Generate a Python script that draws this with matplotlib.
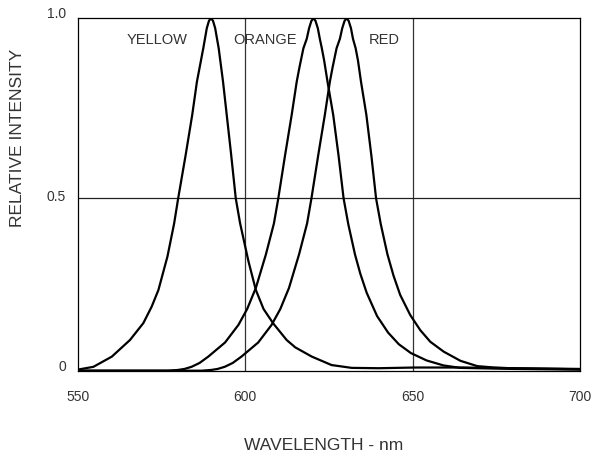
import matplotlib
matplotlib.use('Agg')
import matplotlib.pyplot as plt

plt.rcParams['font.family'] = ['Liberation Sans', 'DejaVu Sans']

# values (wavelength nm, relative intensity)
yellow_nm = [550, 554.7, 560.2, 565.6, 569.6, 572.1, 574.1, 576.8, 578.8, 580.0, 582.2, 584.2,
             585.6, 587.5, 588.0, 588.55, 589.2, 589.8, 590.4, 591.05, 591.6, 592.1, 593.4,
             594.5, 595.8, 597.2, 598.5, 601.0, 603.2, 605.5, 608.4, 612.4, 615.0, 619.9,
             625.8, 631.8, 639.8, 650.7, 665, 680, 700]
yellow_i = [0.003, 0.011, 0.040, 0.087, 0.135, 0.182, 0.229, 0.324, 0.418, 0.489, 0.61, 0.726,
            0.82, 0.915, 0.942, 0.972, 0.993, 1.0, 0.993, 0.972, 0.942, 0.915, 0.82,
            0.726, 0.615, 0.489, 0.418, 0.31, 0.229, 0.175, 0.134, 0.087, 0.066, 0.040,
            0.016, 0.008, 0.007, 0.009, 0.009, 0.007, 0.004]

orange_nm = [550, 577.0, 579.9, 581.9, 584.0, 586.4, 589.0, 594.0, 598.0, 600.6, 603.2, 606.2,
             608.6, 609.9, 611.9, 613.9, 615.4, 616.2, 617.4, 618.4, 619.1, 619.8,
             620.4, 621.0, 621.7, 622.3, 622.9, 623.6, 624.6, 626.3, 627.9, 629.4, 630.8,
             632.8, 634.4, 636.3, 639.4, 642.7, 645.9, 649.5, 654.2, 659.2, 664.2, 680, 700]
orange_i = [0.0, 0.0, 0.002, 0.005, 0.011, 0.022, 0.040, 0.080, 0.130, 0.175, 0.235, 0.33,
            0.418, 0.489, 0.61, 0.726, 0.82, 0.86, 0.915, 0.942, 0.972, 0.993,
            1.0, 0.993, 0.972, 0.942, 0.915, 0.88, 0.82, 0.726, 0.61, 0.489, 0.416,
            0.33, 0.275, 0.221, 0.155, 0.108, 0.075, 0.050, 0.029, 0.015, 0.008, 0.005, 0.003]

red_nm = [550, 587.0, 589.8, 591.8, 593.9, 596.3, 598.9, 603.9, 607.9, 610.5, 613.1, 616.1,
          618.5, 619.8, 621.8, 623.8, 625.3, 626.1, 627.3, 628.3, 629.0, 629.7,
          630.3, 630.9, 631.6, 632.2, 633.0, 633.7, 634.6, 636.2, 637.7, 639.1, 640.5,
          642.5, 644.3, 646.3, 649.3, 652.3, 655.3, 659.3, 664.3, 669.3, 674.3, 679.3, 700]
red_i = [0.0, 0.0, 0.002, 0.005, 0.011, 0.022, 0.040, 0.080, 0.130, 0.175, 0.235, 0.33,
         0.418, 0.489, 0.61, 0.726, 0.82, 0.86, 0.915, 0.942, 0.972, 0.993,
         1.0, 0.993, 0.972, 0.942, 0.915, 0.88, 0.82, 0.726, 0.61, 0.489, 0.416,
         0.33, 0.27, 0.215, 0.158, 0.115, 0.082, 0.054, 0.028, 0.013, 0.009, 0.007, 0.005]

series = [(yellow_nm, yellow_i), (orange_nm, orange_i), (red_nm, red_i)]

band_names = ['YELLOW', 'ORANGE', 'RED']
band_label_nm = [573.6, 605.8, 641.4]

x_ticks = [550, 600, 650, 700]
y_ticks = [0, 0.49, 1.0]
y_tick_labels = ['0', '0.5', '1.0']

txt = '#333333'

fig = plt.figure(figsize=(5.95, 4.59), dpi=100)
ax = fig.add_axes([0.1306, 0.1924, 0.8442, 0.7677])
ax.set_xlim(550, 700)
ax.set_ylim(0, 1.0)

# grid lines (only these three)
for gx in [600, 650]:
    ax.axvline(gx, color='#333333', lw=0.9, zorder=1)
ax.axhline(y_ticks[1], color='#222222', lw=0.9, zorder=1)

for nm, inten in series:
    ax.plot(nm, inten, color='black', lw=1.6, solid_joinstyle='round',
            solid_capstyle='round', zorder=3)

for name, pos in zip(band_names, band_label_nm):
    ax.text(pos, 0.938, name, ha='center', va='center', fontsize=10.5, color=txt)

ax.set_xticks([])
ax.set_yticks([])
for sp in ax.spines.values():
    sp.set_linewidth(0.9)
    sp.set_color('black')
    sp.set_zorder(4)

for v in x_ticks:
    ax.annotate(str(v), xy=(v, 0), xycoords=('data', 'axes fraction'),
                xytext=(0, -19.2), textcoords='offset points',
                ha='center', va='center', fontsize=10, color=txt)
offs = [2.9, 0.8, 3.3]
for v, lab, dy in zip(y_ticks, y_tick_labels, offs):
    ax.annotate(lab, xy=(0, v), xycoords=('axes fraction', 'data'),
                xytext=(-8.4, dy), textcoords='offset points',
                ha='right', va='center', fontsize=10, color=txt)

fig.text(323.3 / 595, 1 - 445.7 / 459, 'WAVELENGTH - nm', ha='center', va='center',
         fontsize=12.5, color=txt)
fig.text(17.5 / 595, 1 - 138 / 459, 'RELATIVE INTENSITY', ha='center', va='center',
         rotation=90, fontsize=12.5, color=txt)

fig.savefig('out.png', dpi=100)
